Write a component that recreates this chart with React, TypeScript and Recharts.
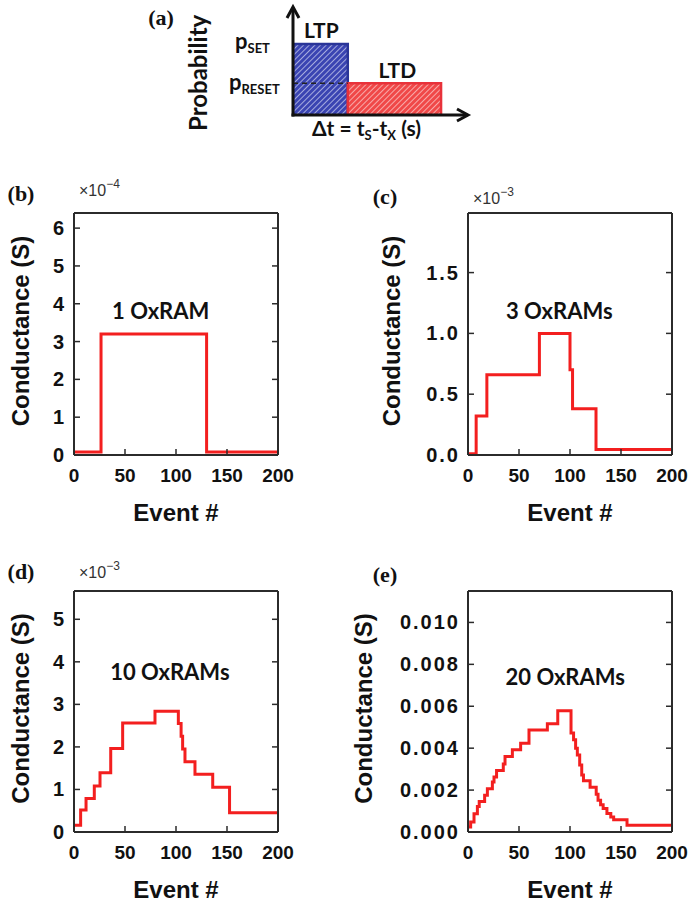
import {
    Area,
    ComposedChart,
    Line,
    LineChart,
    ReferenceDot,
    ReferenceLine,
    XAxis,
    YAxis,
} from 'recharts';

const SANS = '"Liberation Sans", Arial, sans-serif';
const NOTE_FONT = 'Lato, "Open Sans", sans-serif';
const SERIF = '"Liberation Serif", "Times New Roman", serif';
const INK = '#111';
const FRAME = '#2b2b2b';
const TRACE = '#f31f1f';

// (a) plasticity rule: probability windows over delta t
const ltpWindow = [0, 3.13];
const ltdWindow = [3.13, 8.46];
const pSet = 0.657;
const pReset = 0.293;
const deltaTMax = 10;
const probMax = 1;

// event axis shared by (b)-(e)
const eventTicks = [0, 50, 100, 150, 200];

// (b) 1 OxRAM
const eventsB = [0, 26.5, 130, 200];
const condB = [8e-6, 3.2e-4, 8e-6, 8e-6];
const ticksB = [0, 1e-4, 2e-4, 3e-4, 4e-4, 5e-4, 6e-4];

// (c) 3 OxRAMs
const eventsC = [0, 8, 18.5, 70, 100, 102.5, 125.5, 200];
const condC = [1e-5, 0.32e-3, 0.66e-3, 1.0e-3, 0.7e-3, 0.38e-3, 0.045e-3, 0.045e-3];
const ticksC = [0, 0.5e-3, 1.0e-3, 1.5e-3];

// (d) 10 OxRAMs
const eventsD = [0, 6.5, 11.8, 19.9, 25.5, 36, 47.7, 79.4, 102.3, 105, 106.5, 108.8, 118.6, 136, 152.5, 200];
const condD = [
    0.16e-3, 0.52e-3, 0.79e-3, 1.08e-3, 1.39e-3, 1.96e-3, 2.56e-3, 2.84e-3,
    2.55e-3, 2.25e-3, 1.95e-3, 1.65e-3, 1.36e-3, 1.05e-3, 0.45e-3, 0.45e-3,
];
const ticksD = [0, 1e-3, 2e-3, 3e-3, 4e-3, 5e-3];

// (e) 20 OxRAMs
const eventsE = [
    0, 2.6, 5.9, 9.2, 11, 16.3, 19, 23.9, 25.5, 28, 34.6, 36.3, 43.5, 51.6, 59.8, 77.8, 88,
    101, 103.5, 105.5, 107.2, 109.5, 111.5, 113.2, 119.7, 125.7, 127.5, 130, 132.5, 136.2, 140, 142.8, 155.9, 200,
];
const condE = [
    0.24e-3, 0.48e-3, 0.87e-3, 1.22e-3, 1.45e-3, 1.75e-3, 2.06e-3, 2.38e-3, 2.62e-3, 2.94e-3, 3.25e-3, 3.6e-3,
    3.92e-3, 4.24e-3, 4.87e-3, 5.16e-3, 5.78e-3, 4.72e-3, 4.4e-3, 4.0e-3, 3.68e-3, 3.2e-3, 2.72e-3, 2.45e-3,
    2.13e-3, 1.8e-3, 1.52e-3, 1.3e-3, 1.12e-3, 0.88e-3, 0.72e-3, 0.59e-3, 0.32e-3, 0.32e-3,
];
const ticksE = [0, 0.002, 0.004, 0.006, 0.008, 0.01];

type Box = {
    chartLeft: number;
    chartRight: number;
    plotLeft: number;
    plotRight: number;
    plotTop: number;
    plotBottom: number;
};

type PanelSpec = {
    letter: string;
    letterAt: [number, number];
    note: string;
    noteAt: [number, number];
    events: number[];
    values: number[];
    yTicks: number[];
    yMax: number;
    unit: number;
    digits: number;
    exponent?: string;
    exponentDy: number;
    titleDx: number;
    box: Box;
};

const panels: PanelSpec[] = [
    {
        letter: '(b)',
        letterAt: [21, 194],
        note: '1 OxRAM',
        noteAt: [85, 3.83e-4],
        events: eventsB,
        values: condB,
        yTicks: ticksB,
        yMax: 6.4e-4,
        unit: 1e-4,
        digits: 0,
        exponent: '\u22124',
        exponentDy: -17,
        titleDx: -54,
        box: { chartLeft: 0, chartRight: 330, plotLeft: 74, plotRight: 278, plotTop: 213, plotBottom: 455 },
    },
    {
        letter: '(c)',
        letterAt: [385, 197],
        note: '3 OxRAMs',
        noteAt: [89.5, 1.19e-3],
        events: eventsC,
        values: condC,
        yTicks: ticksC,
        yMax: 1.99e-3,
        unit: 1e-3,
        digits: 1,
        exponent: '\u22123',
        exponentDy: -9,
        titleDx: -77,
        box: { chartLeft: 340, chartRight: 690, plotLeft: 468, plotRight: 672, plotTop: 213, plotBottom: 455 },
    },
    {
        letter: '(d)',
        letterAt: [21, 572],
        note: '10 OxRAMs',
        noteAt: [94, 3.77e-3],
        events: eventsD,
        values: condD,
        yTicks: ticksD,
        yMax: 5.665e-3,
        unit: 1e-3,
        digits: 0,
        exponent: '\u22123',
        exponentDy: -13,
        titleDx: -54,
        box: { chartLeft: 0, chartRight: 330, plotLeft: 74, plotRight: 278, plotTop: 591, plotBottom: 832 },
    },
    {
        letter: '(e)',
        letterAt: [385, 575],
        note: '20 OxRAMs',
        noteAt: [95.4, 7.4e-3],
        events: eventsE,
        values: condE,
        yTicks: ticksE,
        yMax: 0.0115,
        unit: 1,
        digits: 3,
        exponentDy: 0,
        titleDx: -105,
        box: { chartLeft: 340, chartRight: 690, plotLeft: 468, plotRight: 672, plotTop: 591, plotBottom: 832 },
    },
];

const TICK_LEN = 6;
const HEAD_ROOM = 40;
const X_AXIS_HEIGHT = 72;
const frameLine = { stroke: FRAME, strokeWidth: 2 };

// MATLAB-style box: ticks point inward on all four sides, labels outside
function BottomTick({ x, y, payload }: any) {
    return (
        <g>
            <line x1={x} y1={y} x2={x} y2={y - TICK_LEN} stroke={FRAME} strokeWidth={1.5} />
            <text x={x} y={y + 27} textAnchor="middle" fontFamily={SANS} fontSize={19} fontWeight="bold" fill={INK}>
                {payload.value}
            </text>
        </g>
    );
}

function TopTick({ x, y }: any) {
    return <line x1={x} y1={y} x2={x} y2={y + TICK_LEN} stroke={FRAME} strokeWidth={1.5} />;
}

function RightTick({ x, y }: any) {
    return <line x1={x} y1={y} x2={x - TICK_LEN} y2={y} stroke={FRAME} strokeWidth={1.5} />;
}

function LeftTick({ x, y, payload, fmt }: any) {
    return (
        <g>
            <line x1={x} y1={y} x2={x + TICK_LEN} y2={y} stroke={FRAME} strokeWidth={1.5} />
            <text
                x={x - 8}
                y={y + 7}
                textAnchor="end"
                fontFamily={SANS}
                fontSize={20}
                fontWeight="bold"
                fill={INK}
                letterSpacing={2}
            >
                {fmt(payload.value)}
            </text>
        </g>
    );
}

function ConductancePanel({ spec }: { spec: PanelSpec }) {
    const { box } = spec;
    const top = box.plotTop - HEAD_ROOM - 1;
    const width = box.chartRight - box.chartLeft;
    const height = box.plotBottom + X_AXIS_HEIGHT - top;
    const data = spec.events.map((event, i) => ({ event, g: spec.values[i] }));
    const fmt = (v: number) => (v / spec.unit).toFixed(spec.digits);
    const yDomain = [0, spec.yMax];

    return (
        <div style={{ position: 'absolute', left: box.chartLeft, top }}>
            <LineChart
                width={width}
                height={height}
                data={data}
                margin={{ top: HEAD_ROOM, right: box.chartRight - box.plotRight - 1, bottom: 0, left: 0 }}
            >
                <XAxis
                    xAxisId="bottom"
                    orientation="bottom"
                    type="number"
                    dataKey="event"
                    domain={[0, 200]}
                    allowDataOverflow
                    ticks={eventTicks}
                    interval={0}
                    height={X_AXIS_HEIGHT}
                    tickSize={0}
                    tickMargin={0}
                    tickLine={false}
                    axisLine={frameLine}
                    tick={BottomTick}
                    label={{
                        content: ({ viewBox }: any) => (
                            <text
                                x={viewBox.x + viewBox.width / 2}
                                y={viewBox.y + 57}
                                textAnchor="middle"
                                dominantBaseline="central"
                                fontFamily={SANS}
                                fontSize={24}
                                fontWeight="bold"
                                fill={INK}
                            >
                                Event #
                            </text>
                        ),
                    }}
                />
                <XAxis
                    xAxisId="top"
                    orientation="top"
                    type="number"
                    domain={[0, 200]}
                    allowDataOverflow
                    ticks={eventTicks}
                    interval={0}
                    height={1}
                    tickSize={0}
                    tickMargin={0}
                    tickLine={false}
                    axisLine={frameLine}
                    tick={TopTick}
                    label={{
                        content: ({ viewBox }: any) =>
                            spec.exponent ? (
                                <text
                                    x={viewBox.x + 5}
                                    y={viewBox.y + viewBox.height + spec.exponentDy}
                                    fontFamily={SANS}
                                    fontSize={16}
                                    fill="#333"
                                >
                                    {'\u00d710'}
                                    <tspan fontSize={12} dy={-8}>
                                        {spec.exponent}
                                    </tspan>
                                </text>
                            ) : null,
                    }}
                />
                <YAxis
                    yAxisId="left"
                    orientation="left"
                    type="number"
                    domain={yDomain}
                    allowDataOverflow
                    ticks={spec.yTicks}
                    interval={0}
                    width={box.plotLeft - box.chartLeft}
                    tickSize={0}
                    tickMargin={0}
                    tickLine={false}
                    axisLine={frameLine}
                    tick={(p: any) => <LeftTick {...p} fmt={fmt} />}
                    label={{
                        content: ({ viewBox }: any) => {
                            const cx = viewBox.x + viewBox.width + spec.titleDx;
                            const cy = viewBox.y + viewBox.height / 2 - 3;
                            return (
                                <text
                                    x={cx}
                                    y={cy}
                                    transform={`rotate(-90 ${cx} ${cy})`}
                                    textAnchor="middle"
                                    dominantBaseline="central"
                                    fontFamily={SANS}
                                    fontSize={24}
                                    fontWeight="bold"
                                    fill={INK}
                                >
                                    Conductance (S)
                                </text>
                            );
                        },
                    }}
                />
                <YAxis
                    yAxisId="right"
                    orientation="right"
                    type="number"
                    domain={yDomain}
                    allowDataOverflow
                    ticks={spec.yTicks}
                    interval={0}
                    width={1}
                    tickSize={0}
                    tickMargin={0}
                    tickLine={false}
                    axisLine={frameLine}
                    tick={RightTick}
                />
                <ReferenceDot
                    xAxisId="bottom"
                    yAxisId="left"
                    x={spec.noteAt[0]}
                    y={spec.noteAt[1]}
                    r={0}
                    shape={(p: any) => (
                        <text
                            x={p.cx}
                            y={p.cy}
                            textAnchor="middle"
                            dominantBaseline="central"
                            fontFamily={NOTE_FONT}
                            fontSize={22}
                            fontWeight="bold"
                            fill={INK}
                        >
                            {spec.note}
                        </text>
                    )}
                />
                <Line
                    xAxisId="bottom"
                    yAxisId="left"
                    type="stepAfter"
                    dataKey="g"
                    stroke={TRACE}
                    strokeWidth={3}
                    dot={false}
                    activeDot={false}
                    isAnimationActive={false}
                />
            </LineChart>
        </div>
    );
}

function AxisArrow({ x1, y1, x2, y2 }: any) {
    const len = Math.hypot(x2 - x1, y2 - y1) || 1;
    const ux = (x2 - x1) / len;
    const uy = (y2 - y1) / len;
    const head = 11;
    const half = 6;
    const bx = x2 - ux * head;
    const by = y2 - uy * head;
    return (
        <g>
            <line x1={x1} y1={y1} x2={x2 - ux * 2} y2={y2 - uy * 2} stroke={INK} strokeWidth={3} strokeLinecap="square" />
            <polyline
                points={`${bx - uy * half},${by + ux * half} ${x2},${y2} ${bx + uy * half},${by - ux * half}`}
                fill="none"
                stroke={INK}
                strokeWidth={3}
            />
        </g>
    );
}

// closed outline of a probability window: up, across, down
const windowOutline = (w: number[], p: number) => [
    { t: w[0], p: 0 },
    { t: w[0], p },
    { t: w[1], p },
    { t: w[1], p: 0 },
];

const sketchText = { fontFamily: NOTE_FONT, fontWeight: 'bold' as const, fill: INK };

function RuleSketch() {
    return (
        <div style={{ position: 'absolute', left: 150, top: 0 }}>
            <ComposedChart width={330} height={150} margin={{ top: 7, right: 12, bottom: 35, left: 143 }}>
                <defs>
                    <pattern id="ltpHatch" width="4" height="4" patternUnits="userSpaceOnUse" patternTransform="rotate(45)">
                        <rect width="4" height="4" fill="#3a44b2" />
                        <line x1="0" y1="0" x2="0" y2="4" stroke="#dfe2f7" strokeWidth="1.3" />
                    </pattern>
                    <pattern id="ltdHatch" width="4" height="4" patternUnits="userSpaceOnUse" patternTransform="rotate(45)">
                        <rect width="4" height="4" fill="#f04848" />
                        <line x1="0" y1="0" x2="0" y2="4" stroke="#fde0e0" strokeWidth="1.3" />
                    </pattern>
                </defs>
                <XAxis type="number" dataKey="t" domain={[0, deltaTMax]} allowDataOverflow hide />
                <YAxis type="number" domain={[0, probMax]} allowDataOverflow hide />
                <Area
                    data={windowOutline(ltpWindow, pSet)}
                    dataKey="p"
                    type="linear"
                    fill="url(#ltpHatch)"
                    fillOpacity={1}
                    stroke="#2a3598"
                    strokeWidth={2.5}
                    activeDot={false}
                    isAnimationActive={false}
                />
                <Area
                    data={windowOutline(ltdWindow, pReset)}
                    dataKey="p"
                    type="linear"
                    fill="url(#ltdHatch)"
                    fillOpacity={1}
                    stroke="#e8323a"
                    strokeWidth={2.5}
                    activeDot={false}
                    isAnimationActive={false}
                />
                <ReferenceLine
                    segment={[
                        { x: 0, y: pReset },
                        { x: ltpWindow[1], y: pReset },
                    ]}
                    stroke="#222"
                    strokeWidth={1.5}
                    strokeDasharray="5 4"
                />
                <ReferenceLine
                    segment={[
                        { x: 0, y: 0 },
                        { x: deltaTMax, y: 0 },
                    ]}
                    shape={AxisArrow}
                />
                <ReferenceLine
                    segment={[
                        { x: 0, y: 0 },
                        { x: 0, y: probMax },
                    ]}
                    shape={AxisArrow}
                />
                <ReferenceDot
                    x={0}
                    y={pSet}
                    r={0}
                    shape={(p: any) => (
                        <text x={p.cx - 58} y={p.cy + 5} fontSize={22} {...sketchText}>
                            p
                            <tspan fontSize={13} dy={4}>
                                SET
                            </tspan>
                        </text>
                    )}
                />
                <ReferenceDot
                    x={0}
                    y={pReset}
                    r={0}
                    shape={(p: any) => (
                        <text x={p.cx - 64} y={p.cy + 7} fontSize={22} {...sketchText}>
                            p
                            <tspan fontSize={13} dy={4}>
                                RESET
                            </tspan>
                        </text>
                    )}
                />
                <ReferenceDot
                    x={(ltpWindow[0] + ltpWindow[1]) / 2}
                    y={pSet}
                    r={0}
                    shape={(p: any) => (
                        <text x={p.cx + 1} y={p.cy - 6} textAnchor="middle" fontSize={21} {...sketchText}>
                            LTP
                        </text>
                    )}
                />
                <ReferenceDot
                    x={(ltdWindow[0] + ltdWindow[1]) / 2}
                    y={pReset}
                    r={0}
                    shape={(p: any) => (
                        <text x={p.cx + 3} y={p.cy - 5} textAnchor="middle" fontSize={21} {...sketchText}>
                            LTD
                        </text>
                    )}
                />
                <ReferenceDot
                    x={4.2}
                    y={0}
                    r={0}
                    shape={(p: any) => (
                        <text x={p.cx} y={p.cy + 21} textAnchor="middle" fontSize={21} {...sketchText}>
                            {'\u0394t = t'}
                            <tspan fontSize={13} dy={4}>
                                S
                            </tspan>
                            <tspan dy={-4}>-t</tspan>
                            <tspan fontSize={13} dy={4}>
                                X
                            </tspan>
                            <tspan dy={-4}> (s)</tspan>
                        </text>
                    )}
                />
                <ReferenceDot
                    x={0}
                    y={0.39}
                    r={0}
                    shape={(p: any) => {
                        const cx = p.cx - 95;
                        return (
                            <text
                                x={cx}
                                y={p.cy}
                                transform={`rotate(-90 ${cx} ${p.cy})`}
                                textAnchor="middle"
                                dominantBaseline="central"
                                fontSize={24}
                                {...sketchText}
                            >
                                Probability
                            </text>
                        );
                    }}
                />
            </ComposedChart>
        </div>
    );
}

function PanelLetter({ text, at }: { text: string; at: [number, number] }) {
    return (
        <div
            style={{
                position: 'absolute',
                left: at[0],
                top: at[1],
                transform: 'translate(-50%, -50%)',
                fontFamily: SERIF,
                fontWeight: 'bold',
                fontSize: 22,
                lineHeight: 1,
                color: INK,
                whiteSpace: 'nowrap',
            }}
        >
            {text}
        </div>
    );
}

export default function App() {
    return (
        <div
            style={{
                position: 'absolute',
                left: 0,
                top: 0,
                width: 690,
                height: 901,
                overflow: 'hidden',
                background: '#fff',
            }}
        >
            <RuleSketch />
            <PanelLetter text="(a)" at={[161, 18]} />
            {panels.map((spec) => (
                <div key={spec.letter}>
                    <ConductancePanel spec={spec} />
                    <PanelLetter text={spec.letter} at={spec.letterAt} />
                </div>
            ))}
        </div>
    );
}
